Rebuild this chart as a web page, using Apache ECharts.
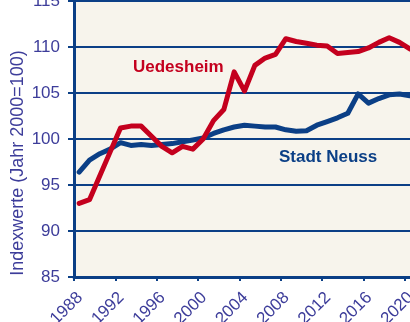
<!DOCTYPE html>
<html>
<head>
<meta charset="utf-8">
<script src="https://cdn.jsdelivr.net/npm/echarts@6/dist/echarts.min.js"></script>
<style>
  html, body { margin: 0; padding: 0; background: #ffffff; }
  #chart { width: 410px; height: 322px; }
</style>
</head>
<body>
<div id="chart"></div>
<script>
// Population index (year 2000 = 100), one value per year
const years = [1988, 1989, 1990, 1991, 1992, 1993, 1994, 1995, 1996, 1997,
               1998, 1999, 2000, 2001, 2002, 2003, 2004, 2005, 2006, 2007,
               2008, 2009, 2010, 2011, 2012, 2013, 2014, 2015, 2016, 2017,
               2018, 2019, 2020];
const uedesheim = [93.0, 93.4, 96.0, 98.6, 101.2, 101.4, 101.4, 100.3, 99.2, 98.5,
                   99.2, 98.9, 100.0, 102.0, 103.2, 107.3, 105.2, 108.0, 108.8, 109.2,
                   110.9, 110.6, 110.4, 110.2, 110.1, 109.3, 109.4, 109.5, 109.9, 110.5,
                   111.0, 110.5, 109.8];
const stadtNeuss = [96.4, 97.7, 98.4, 98.9, 99.6, 99.3, 99.4, 99.3, 99.4, 99.5,
                    99.7, 99.9, 100.1, 100.6, 101.0, 101.3, 101.5, 101.4, 101.3, 101.3,
                    101.0, 100.85, 100.9, 101.5, 101.9, 102.3, 102.8, 104.9, 103.9, 104.4,
                    104.8, 104.9, 104.7];
const yTicks = [85, 90, 95, 100, 105, 110, 115];
const yAxisTitle = 'Indexwerte (Jahr 2000=100)';

const NAVY = '#0b3f86';
const RED = '#c4001e';
const LABEL = '#3d3d9a';

// annual values sit in the middle of their year on the time axis
const toPoints = vals => years.map((y, i) => [y + 0.5, vals[i]]);

const chart = echarts.init(document.getElementById('chart'), null, { renderer: 'canvas' });
chart.setOption({
  animation: false,
  backgroundColor: '#ffffff',
  grid: {
    left: 74, top: 1, width: 372, height: 276,
    containLabel: false, outerBoundsMode: 'none',
    show: true, backgroundColor: '#f7f4ec', borderWidth: 0
  },
  xAxis: {
    type: 'value', min: 1988, max: 2024, interval: 4,
    axisLine: { show: true, lineStyle: { color: NAVY, width: 3 } },
    axisTick: { show: true, length: 4, lineStyle: { color: NAVY, width: 2 } },
    axisLabel: {
      rotate: 45, margin: 12, color: LABEL, fontSize: 17,
      verticalAlign: 'top',
      fontFamily: 'Liberation Sans, Arial, sans-serif',
      formatter: v => String(v)
    },
    splitLine: { show: false }
  },
  yAxis: {
    type: 'value', min: yTicks[0], max: yTicks[yTicks.length - 1], interval: 5,
    axisLine: { show: true, lineStyle: { color: NAVY, width: 3 } },
    axisTick: { show: true, length: 6, lineStyle: { color: NAVY, width: 2 } },
    axisLabel: {
      margin: 14, color: LABEL, fontSize: 17,
      fontFamily: 'Liberation Sans, Arial, sans-serif'
    },
    splitLine: { show: true, lineStyle: { color: NAVY, width: 2 } }
  },
  series: [
    {
      name: 'Stadt Neuss', type: 'line', data: toPoints(stadtNeuss),
      showSymbol: false, smooth: false,
      lineStyle: { color: NAVY, width: 5, cap: 'round', join: 'round' }, z: 3
    },
    {
      name: 'Uedesheim', type: 'line', data: toPoints(uedesheim),
      showSymbol: false, smooth: false,
      lineStyle: { color: RED, width: 5, cap: 'round', join: 'round' }, z: 4
    }
  ],
  graphic: [
    {
      type: 'text', left: 133, top: 59, z: 10,
      style: { text: 'Uedesheim', fill: RED, font: 'bold 17px Liberation Sans, Arial, sans-serif' }
    },
    {
      type: 'text', left: 279, top: 149, z: 10,
      style: { text: 'Stadt Neuss', fill: NAVY, font: 'bold 17px Liberation Sans, Arial, sans-serif' }
    },
    {
      type: 'text', x: 18, y: 163, rotation: Math.PI / 2, z: 10,
      style: {
        text: yAxisTitle, fill: LABEL, align: 'center', verticalAlign: 'middle',
        font: '18px Liberation Sans, Arial, sans-serif'
      }
    }
  ]
});
</script>
</body>
</html>
